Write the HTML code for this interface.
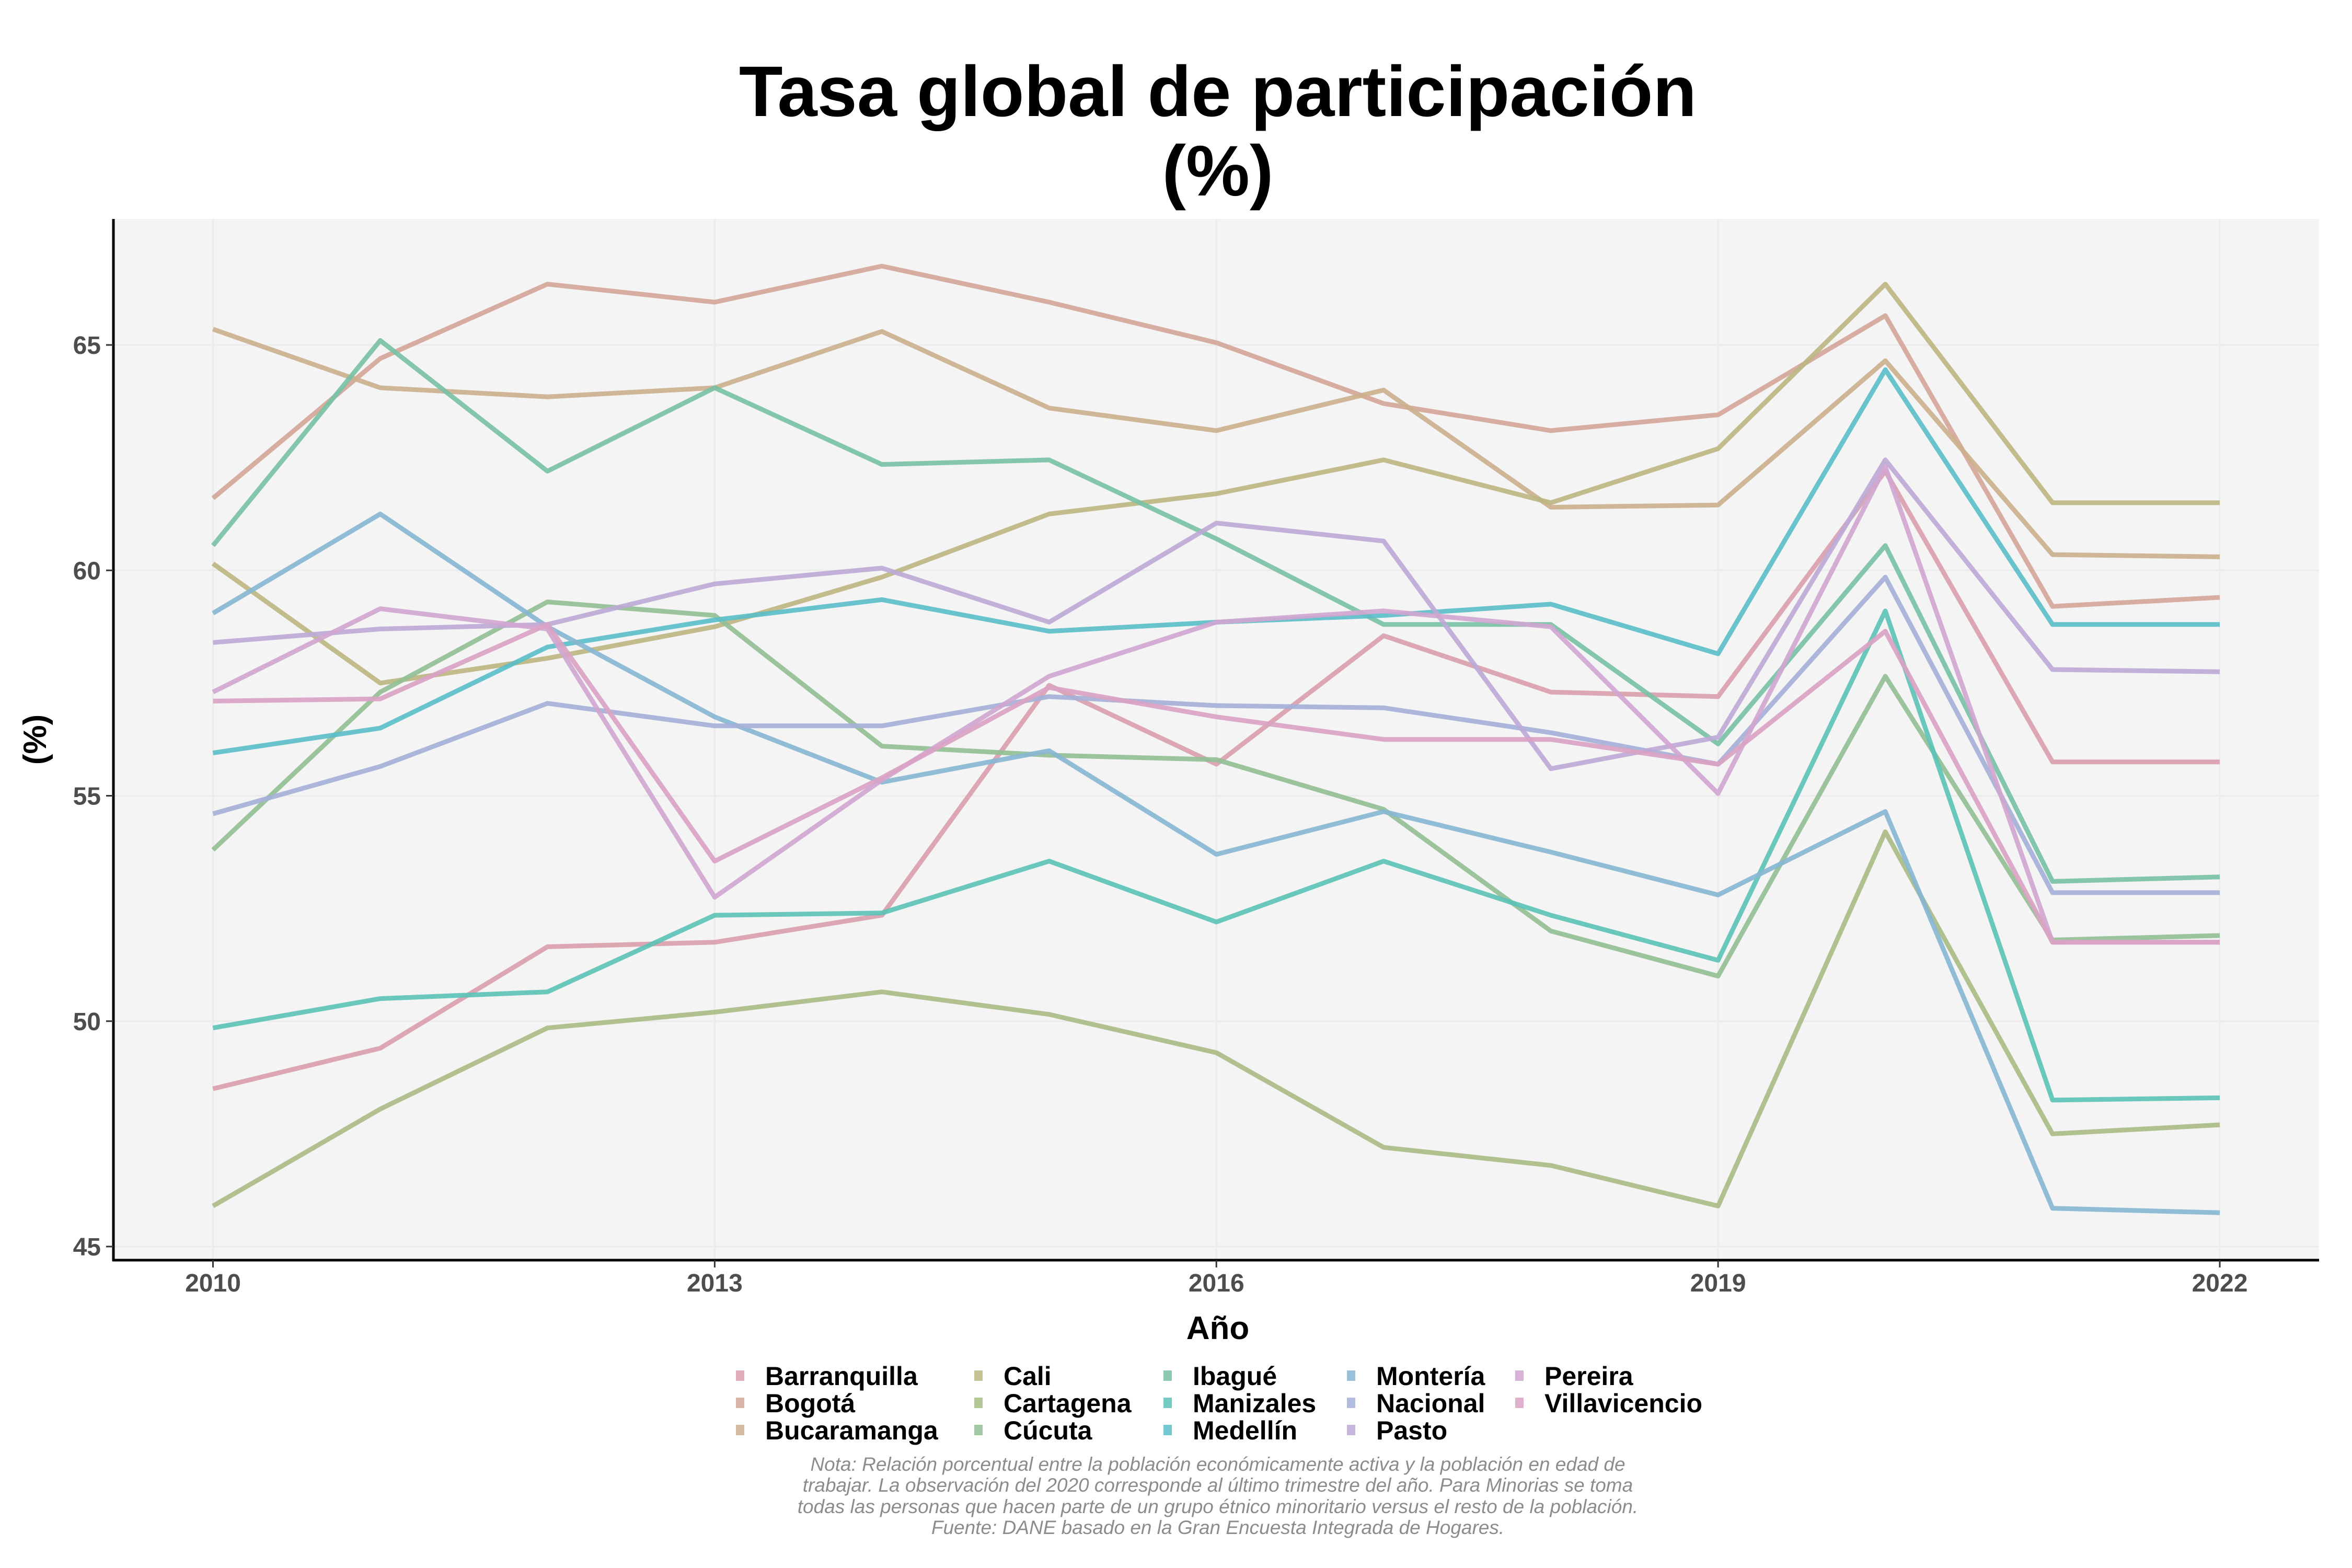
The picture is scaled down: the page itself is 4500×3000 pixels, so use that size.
<!DOCTYPE html>
<html><head><meta charset="utf-8">
<style>
html,body{margin:0;padding:0;background:#fff;}
svg{display:block;font-family:"Liberation Sans",Arial,sans-serif;}
</style></head>
<body>
<svg id="chart" width="4500" height="3000" viewBox="0 0 4500 3000" xmlns="http://www.w3.org/2000/svg">
<rect x="0" y="0" width="4500" height="3000" fill="#fff"/>
<text x="2330" y="222" text-anchor="middle" font-size="137" font-weight="bold">Tasa global de participación</text>
<text x="2330" y="374" text-anchor="middle" font-size="137" font-weight="bold">(%)</text>
<rect x="217" y="419" width="4220" height="1992" fill="#f4f4f4"/>
<g id="grid"></g>
<g id="series"></g>
<g id="axes"></g>
<text transform="translate(88,1415) rotate(-90)" text-anchor="middle" font-size="62" font-weight="bold">(%)</text>
<text x="2330" y="2562" text-anchor="middle" font-size="62" font-weight="bold">Año</text>
<g id="legend"></g>
<g font-size="37" font-style="italic" fill="#8c8c8c" text-anchor="middle">
<text x="2330" y="2814">Nota: Relación porcentual entre la población económicamente activa y la población en edad de</text>
<text x="2330" y="2854">trabajar. La observación del 2020 corresponde al último trimestre del año. Para Minorias se toma</text>
<text x="2330" y="2895">todas las personas que hacen parte de un grupo étnico minoritario versus el resto de la población.</text>
<text x="2330" y="2935">Fuente: DANE basado en la Gran Encuesta Integrada de Hogares.</text>
</g>
</svg>
<script>
const years=[2010,2011,2012,2013,2014,2015,2016,2017,2018,2019,2020,2021,2022];
const xTicks=[2010,2013,2016,2019,2022];
const yTicks=[45,50,55,60,65];
const names=["Barranquilla","Bogotá","Bucaramanga","Cali","Cartagena","Cúcuta","Ibagué","Manizales","Medellín","Montería","Nacional","Pasto","Pereira","Villavicencio"];
const colors=["#d9a0ac","#d4a699","#cbb08e","#bdb582","#a9bb84","#93bf95","#78c1a5","#5cc2b6","#5bbec9","#88b6d3","#a5b0d8","#bda9d6","#d0a6d0","#d9a3c3"];
const barranquilla=[48.5,49.4,51.65,51.75,52.35,57.45,55.7,58.55,57.3,57.2,62.2,55.75,55.75];
const bogota=[61.6,64.7,66.35,65.95,66.75,65.95,65.05,63.7,63.1,63.45,65.65,59.2,59.4];
const bucaramanga=[65.35,64.05,63.85,64.05,65.3,63.6,63.1,64.0,61.4,61.45,64.65,60.35,60.3];
const cali=[60.15,57.5,58.05,58.75,59.85,61.25,61.7,62.45,61.5,62.7,66.35,61.5,61.5];
const cartagena=[45.9,48.05,49.85,50.2,50.65,50.15,49.3,47.2,46.8,45.9,54.2,47.5,47.7];
const cucuta=[53.8,57.3,59.3,59.0,56.1,55.9,55.8,54.7,52.0,51.0,57.65,51.8,51.9];
const ibague=[60.55,65.1,62.2,64.05,62.35,62.45,60.7,58.8,58.8,56.15,60.55,53.1,53.2];
const manizales=[49.85,50.5,50.65,52.35,52.4,53.55,52.2,53.55,52.35,51.35,59.1,48.25,48.3];
const medellin=[55.95,56.5,58.3,58.9,59.35,58.65,58.85,59.0,59.25,58.15,64.45,58.8,58.8];
const monteria=[59.05,61.25,58.75,56.75,55.3,56.0,53.7,54.65,53.75,52.8,54.65,45.85,45.75];
const nacional=[54.6,55.65,57.05,56.55,56.55,57.2,57.0,56.95,56.4,55.7,59.85,52.85,52.85];
const pasto=[58.4,58.7,58.8,59.7,60.05,58.85,61.05,60.65,55.6,56.3,62.45,57.8,57.75];
const pereira=[57.3,59.15,58.7,52.75,55.35,57.65,58.85,59.1,58.75,55.05,62.3,51.75,51.75];
const villavicencio=[57.1,57.15,58.8,53.55,55.4,57.4,56.75,56.25,56.25,55.7,58.65,51.75,51.75];
const seriesValues=[barranquilla,bogota,bucaramanga,cali,cartagena,cucuta,ibague,manizales,medellin,monteria,nacional,pasto,pereira,villavicencio];

const NS="http://www.w3.org/2000/svg";
const X0=217,X1=4437,Y0=419,Y1=2411;
function xs(yr){return 407.5+(yr-2010)*(4247-407.5)/12;}
function ys(v){return 2385-(v-45)*(2385-660)/20;}
function mk(tag,attrs,parent){const e=document.createElementNS(NS,tag);for(const k in attrs)e.setAttribute(k,attrs[k]);parent.appendChild(e);return e;}

const grid=document.getElementById('grid');
xTicks.forEach(t=>{const l=mk('line',{x1:xs(t),x2:xs(t),y1:Y0,y2:Y1,stroke:'#ebebeb','stroke-width':3},grid);

});
yTicks.forEach(t=>{const l=mk('line',{x1:X0,x2:X1,y1:ys(t),y2:ys(t),stroke:'#ebebeb','stroke-width':3},grid);

});

const sg=document.getElementById('series');
seriesValues.forEach((vals,i)=>{
 const d=vals.map((v,j)=>(j?'L':'M')+xs(years[j]).toFixed(1)+','+ys(v).toFixed(1)).join(' ');
 const p=mk('path',{d:d,fill:'none',stroke:colors[i],'stroke-width':9,'stroke-linejoin':'round','stroke-opacity':0.92},sg);
 
 
});

const ax=document.getElementById('axes');
const la=mk('line',{x1:X0,x2:X0,y1:Y0,y2:Y1+2,stroke:'#000','stroke-width':5},ax);


const lb=mk('line',{x1:X0-2,x2:X1,y1:Y1,y2:Y1,stroke:'#000','stroke-width':5},ax);


yTicks.forEach(t=>{
 const tk=mk('line',{x1:X0-14,x2:X0,y1:ys(t),y2:ys(t),stroke:'#333','stroke-width':3},ax);
 
 
 const tx=mk('text',{x:X0-24,y:ys(t)+17,'text-anchor':'end','font-size':48,'font-weight':'bold',fill:'#4d4d4d'},ax);
 tx.textContent=t;
 
 
});
xTicks.forEach(t=>{
 const tk=mk('line',{x1:xs(t),x2:xs(t),y1:Y1,y2:Y1+14,stroke:'#333','stroke-width':3},ax);
 
 
 const tx=mk('text',{x:xs(t),y:Y1+60,'text-anchor':'middle','font-size':48,'font-weight':'bold',fill:'#4d4d4d'},ax);
 tx.textContent=t;
 
 
});

const lg=document.getElementById('legend');
const colX=[1416,1872,2234,2585,2907];
const rowY=[2632,2684,2736];
names.forEach((n,i)=>{
 const c=Math.floor(i/3),r=i%3;
 const g=mk('g',{},lg);
 
 
 mk('rect',{x:colX[c]-8,y:rowY[r]-10,width:16,height:20,fill:colors[i],opacity:0.85},g);
 const t=mk('text',{x:colX[c]+48,y:rowY[r]+18,'font-size':50,'font-weight':'bold',fill:'#000'},g);
 t.textContent=n;
});
</script>
</body></html>
